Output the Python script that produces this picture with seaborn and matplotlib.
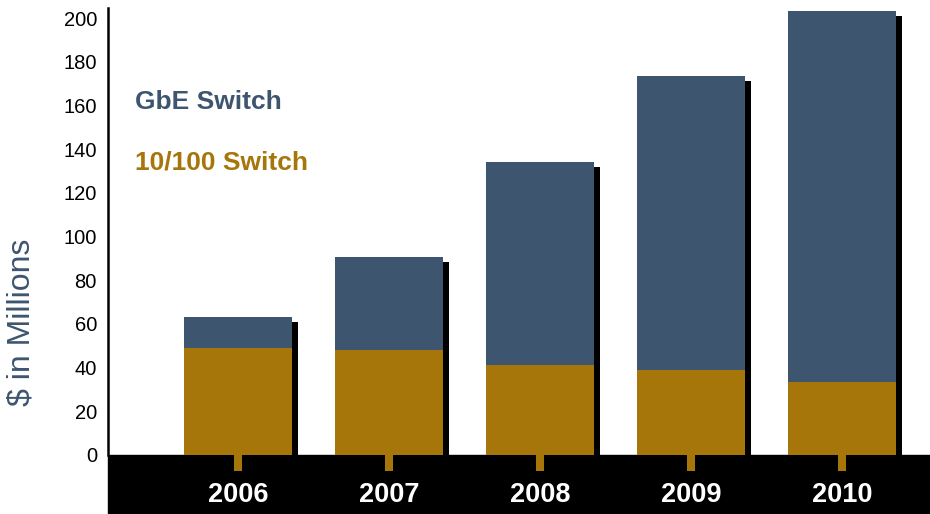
import matplotlib
matplotlib.use("Agg")
import matplotlib.pyplot as plt
from matplotlib.patches import Rectangle
import numpy as np
import pandas as pd
import seaborn as sns

years = ["2006", "2007", "2008", "2009", "2010"]
switch_10_100 = [49.0, 48.0, 41.2, 38.9, 33.4]
gbe_switch = [14.2, 42.6, 92.8, 134.6, 169.8]
yticks = list(range(0, 201, 20))

blue = "#3E556F"
gold = "#A6760A"

sns.set_theme(style="white")
plt.rcParams["font.family"] = ["Liberation Sans", "DejaVu Sans"]

totals = [a + b for a, b in zip(switch_10_100, gbe_switch)]
df = pd.DataFrame({"year": years, "total": totals, "low": switch_10_100})

fig = plt.figure(figsize=(9.3, 5.14), dpi=100)
W, H = 930, 514
ax = fig.add_axes([108 / W, 59 / H, 1 - 108 / W, (455 - 8) / H])

px_per_unit = 2.185
ymax = 447 / px_per_unit
bar_w = 108 / 151

# shadows
pos = np.arange(len(years))
ax.bar(pos + 6 / 151, np.array(totals) - 5 / px_per_unit, width=bar_w,
       color="black", zorder=1, linewidth=0)

sns.barplot(data=df, x="year", y="total", color=blue, width=bar_w,
            saturation=1, ax=ax, zorder=2, linewidth=0)
sns.barplot(data=df, x="year", y="low", color=gold, width=bar_w,
            saturation=1, ax=ax, zorder=3, linewidth=0)

ax.set_xlim(-130 / 151, (930 - 238) / 151)
ax.set_ylim(0, ymax)
ax.set_yticks(yticks)
ax.set_yticklabels([str(v) for v in yticks], fontsize=14.5, color="black")
ax.tick_params(axis="y", left=False, length=0, pad=8)
ax.tick_params(axis="x", bottom=True, length=11.5, width=5.8, color=gold,
               direction="out", pad=8, labelsize=19.5, labelcolor="white")
for t in ax.get_xticklabels():
    t.set_fontweight("bold")

for s in ["top", "right", "bottom"]:
    ax.spines[s].set_visible(False)
ax.spines["left"].set_color("black")
ax.spines["left"].set_linewidth(1.8)

ax.set_xlabel("")
ax.set_ylabel("")
ax.add_patch(Rectangle((0, -59 / 447), 1, 59 / 447, transform=ax.transAxes,
                       color="black", clip_on=False, zorder=0))

fig.text(22 / W, 1 - 322 / H, "$ in Millions", rotation=90, color=blue,
         fontsize=23, ha="center", va="center")
fig.text(135 / W, 1 - 102 / H, "GbE Switch", color=blue, fontsize=19,
         fontweight="bold", ha="left", va="center")
fig.text(135 / W, 1 - 162 / H, "10/100 Switch", color=gold, fontsize=19,
         fontweight="bold", ha="left", va="center")

fig.savefig("out.png", dpi=100)
